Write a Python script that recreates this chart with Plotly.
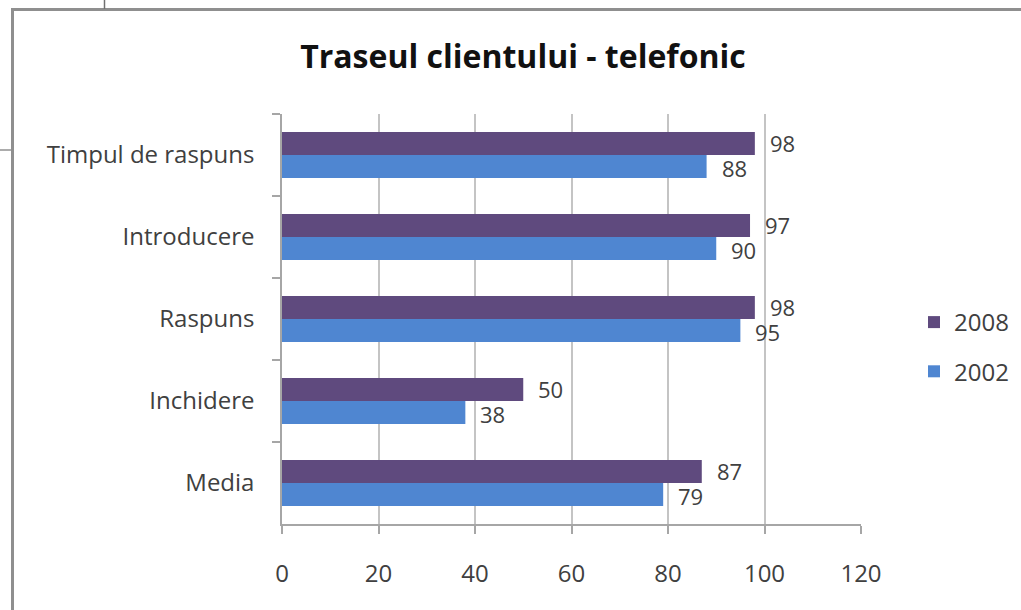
import plotly.graph_objects as go

# Survey results: telephone customer journey, 2008 vs 2002
categories = ["Timpul de raspuns", "Introducere", "Raspuns", "Inchidere", "Media"]
values_2008 = [98, 97, 98, 50, 87]
values_2002 = [88, 90, 95, 38, 79]
series_names = ["2008", "2002"]
x_ticks = [0, 20, 40, 60, 80, 100, 120]

COLOR_2008 = "#5f4a7e"
COLOR_2002 = "#4f86d1"
FONT = "Open Sans, Lato, sans-serif"
TEXT = "#404040"
FS = 24

W, H = 1021, 610
L, R, T, B = 282, 1021 - 861, 114, 610 - 524

fig = go.Figure()
fig.add_trace(go.Bar(y=categories, x=values_2008, name=series_names[0],
                     orientation="h", marker=dict(color=COLOR_2008, line_width=0)))
fig.add_trace(go.Bar(y=categories, x=values_2002, name=series_names[1],
                     orientation="h", marker=dict(color=COLOR_2002, line_width=0)))

# value labels just past the end of each bar
for vals, shift in ((values_2008, 12.5), (values_2002, -12.5)):
    for cat, v in zip(categories, vals):
        fig.add_annotation(x=v, y=cat, xref="x", yref="y", text=str(v),
                           showarrow=False, xanchor="left", yanchor="middle",
                           xshift=13, yshift=shift,
                           font=dict(family=FONT, size=22, color=TEXT))

# pixel -> paper helpers for the frame lines
def px(xp):
    return (xp - L) / (W - L - R)

def py(yp):
    return (H - B - yp) / (H - T - B)

frame = "#8f8f8f"
fig.add_shape(type="line", xref="paper", yref="paper", x0=px(12.5), x1=px(12.5),
              y0=py(9), y1=py(612), line=dict(color=frame, width=3))
fig.add_shape(type="line", xref="paper", yref="paper", x0=px(11), x1=px(1025),
              y0=py(9.5), y1=py(9.5), line=dict(color=frame, width=3))
fig.add_shape(type="line", xref="paper", yref="paper", x0=px(104.5), x1=px(104.5),
              y0=py(-2), y1=py(9), line=dict(color="#707070", width=1.5))
fig.add_shape(type="line", xref="paper", yref="paper", x0=px(-2), x1=px(11),
              y0=py(150), y1=py(150), line=dict(color="#909090", width=1.5))

fig.update_layout(
    width=W, height=H,
    margin=dict(l=L, r=R, t=T, b=B, pad=0, autoexpand=False),
    paper_bgcolor="white", plot_bgcolor="white",
    barmode="group", bargap=0.44, bargroupgap=0,
    title=dict(text="<b>Traseul clientului - telefonic</b>", xref="container",
               x=523 / W, xanchor="center", y=1 - 57 / H, yanchor="middle",
               font=dict(family=FONT, size=32, color="#111111")),
    xaxis=dict(range=[0, 120], tickvals=x_ticks, showgrid=True, gridcolor="#c4c4c4",
               gridwidth=1.5, zeroline=False, showline=True, linecolor="#a6a6a6",
               linewidth=1.5, ticks="outside", ticklen=8, tickcolor="#a6a6a6",
               tickwidth=1.5, ticklabelstandoff=19,
               tickfont=dict(family=FONT, size=FS, color=TEXT)),
    yaxis=dict(autorange="reversed", showline=True, linecolor="#a6a6a6", linewidth=1.5,
               ticks="outside", ticklen=8, tickcolor="#a6a6a6", tickwidth=1.5,
               tickson="boundaries", ticklabelstandoff=21, showgrid=False,
               tickfont=dict(family=FONT, size=FS, color=TEXT)),
    legend=dict(x=px(914), xanchor="left", y=py(300), yanchor="top",
                font=dict(family=FONT, size=FS, color=TEXT),
                tracegroupgap=15, traceorder="grouped", itemwidth=30,
                bgcolor="rgba(0,0,0,0)"),
    showlegend=True,
)
fig.data[0].legendgroup = "a"
fig.data[1].legendgroup = "b"

fig.write_html("out.html")
